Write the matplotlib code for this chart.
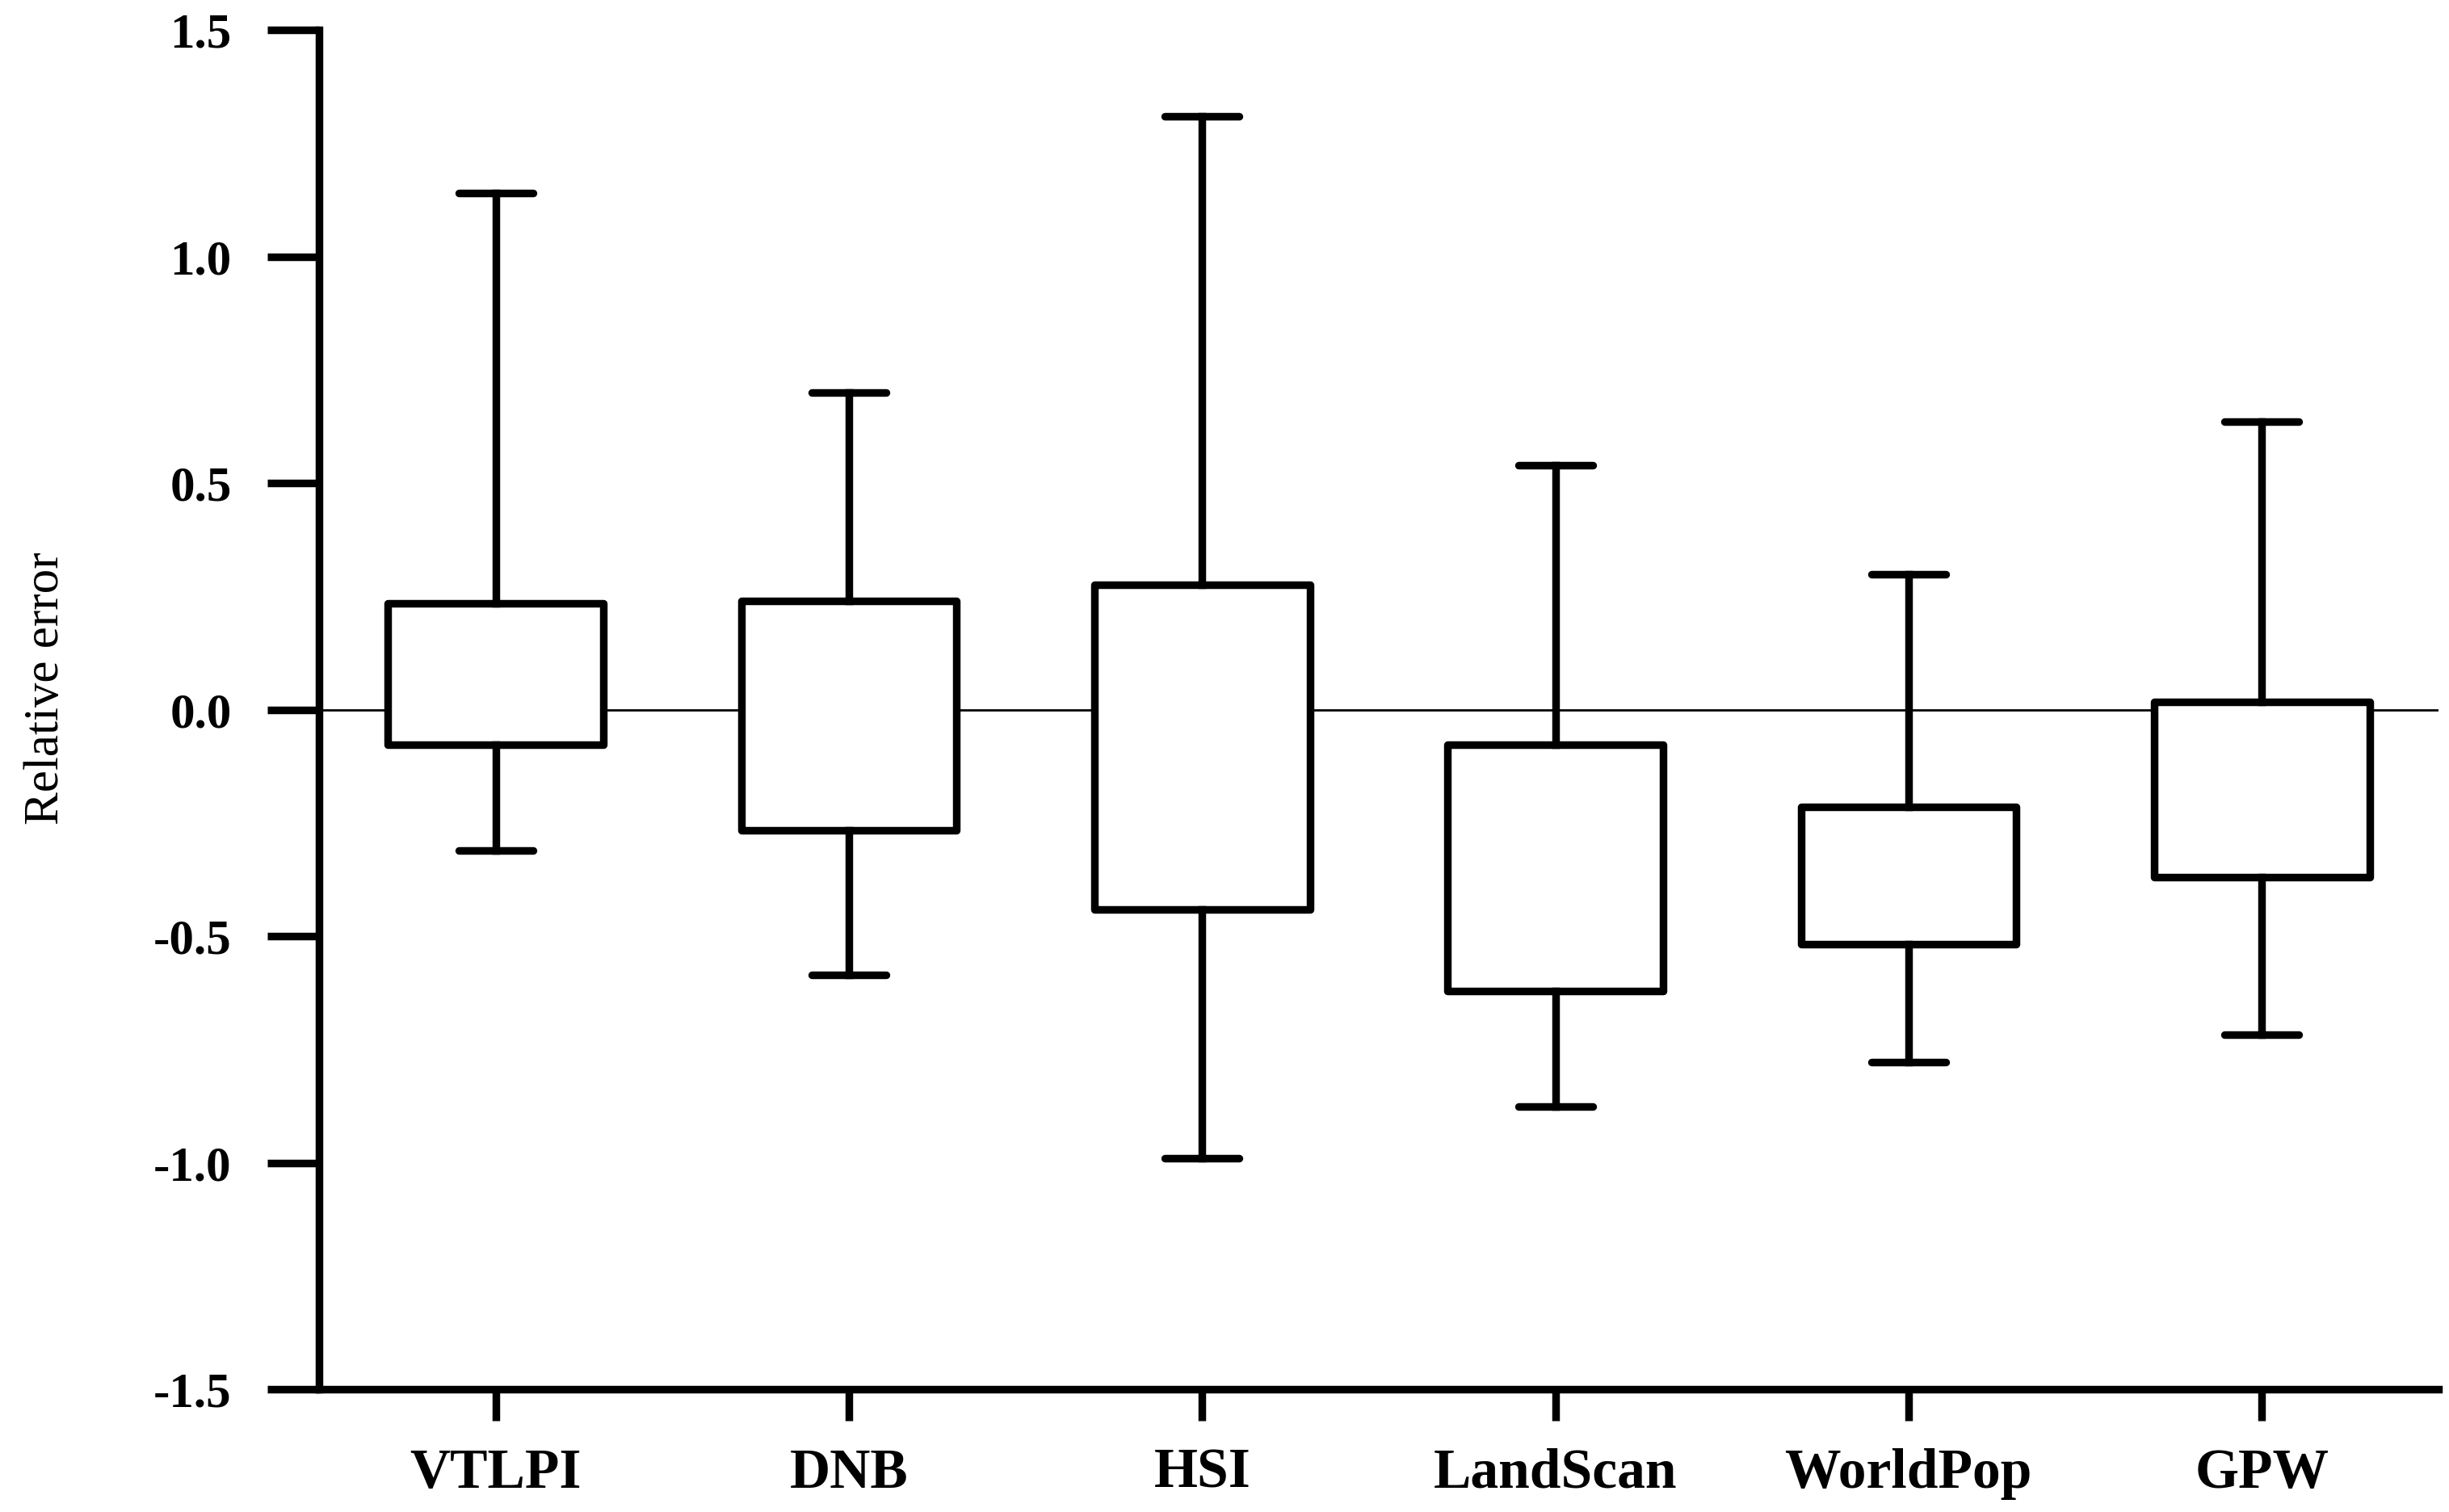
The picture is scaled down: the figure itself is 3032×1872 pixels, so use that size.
import matplotlib
matplotlib.use("Agg")
import matplotlib.pyplot as plt

categories = ["VTLPI", "DNB", "HSI", "LandScan", "WorldPop", "GPW"]
whisker_low = [-0.31, -0.585, -0.99, -0.875, -0.778, -0.716]
q1 = [-0.076, -0.265, -0.44, -0.62, -0.518, -0.37]
q3 = [0.235, 0.24, 0.277, -0.076, -0.214, 0.017]
whisker_high = [1.14, 0.70, 1.31, 0.54, 0.30, 0.636]
yticks = [-1.5, -1.0, -0.5, 0.0, 0.5, 1.0, 1.5]
ylabel = "Relative error"

fig = plt.figure(figsize=(15.16, 9.36), dpi=200)
ax = fig.add_axes([0.1303, 0.081, 0.9957 - 0.1303, 0.980 - 0.081])

stats = []
for i, name in enumerate(categories):
    stats.append(dict(label=name, whislo=whisker_low[i], q1=q1[i],
                      med=q1[i], q3=q3[i], whishi=whisker_high[i], fliers=[]))

positions = list(range(1, len(categories) + 1))
lw = 3.4
ax.axhline(0, color="black", linewidth=1.0, zorder=1)
ax.bxp(stats, positions=positions, widths=0.61, capwidths=0.21,
       showfliers=False, patch_artist=True,
       boxprops=dict(facecolor="white", edgecolor="black", linewidth=lw, joinstyle="round"),
       whiskerprops=dict(color="black", linewidth=lw),
       capprops=dict(color="black", linewidth=lw, solid_capstyle="round"),
       medianprops=dict(linewidth=0),
       zorder=3)

ax.set_xlim(0.5, 6.5)
ax.set_ylim(-1.5, 1.5)
ax.set_yticks(yticks)
ax.set_yticklabels([f"{v:.1f}" for v in yticks])
ax.set_xticks(positions)
ax.set_xticklabels(categories)

for s in ["top", "right"]:
    ax.spines[s].set_visible(False)
for s in ["left", "bottom"]:
    ax.spines[s].set_linewidth(lw)
    ax.spines[s].set_capstyle("projecting")

ax.tick_params(axis="y", direction="out", length=23, width=lw, pad=16)
ax.tick_params(axis="x", direction="out", length=14, width=lw, pad=12)

for t in ax.get_yticklabels():
    t.set_fontfamily("Liberation Serif")
    t.set_fontweight("bold")
    t.set_fontsize(22)
for t in ax.get_xticklabels():
    t.set_fontfamily("Liberation Serif")
    t.set_fontweight("bold")
    t.set_fontsize(25)

fig.text(0.019, 0.545, ylabel, rotation=90, ha="center", va="center",
         fontfamily="Liberation Serif", fontsize=22)

fig.savefig("out.png", dpi=200, facecolor="white")
